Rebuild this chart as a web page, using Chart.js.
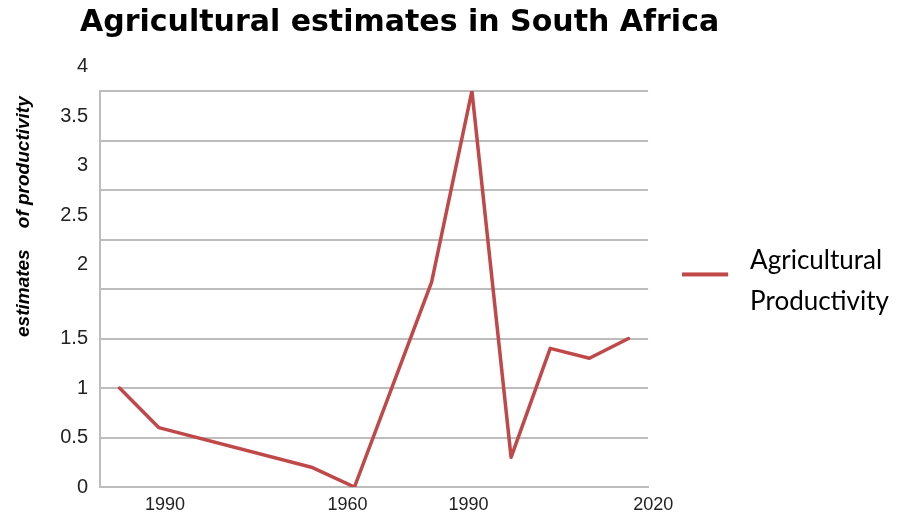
<!DOCTYPE html>
<html>
<head>
<meta charset="utf-8">
<title>Agricultural estimates in South Africa</title>
<script src="https://cdn.jsdelivr.net/npm/chart.js@4/dist/chart.umd.min.js"></script>
<style>
  html, body { margin: 0; padding: 0; background: #ffffff; }
  canvas { display: block; }
</style>
</head>
<body>
<canvas id="chart" width="899" height="515"></canvas>
<script>
// ---- data ----
const chartTitle = 'Agricultural estimates in South Africa';
const seriesName = ['Agricultural', 'Productivity'];
const yAxisTitle = 'estimates    of productivity ';

// position of each observation along the horizontal axis, and its value
const positions    = [0, 1, 4.9, 6, 7.97, 9, 10, 11, 12, 13];
const productivity = [1.0, 0.6, 0.2, 0.0, 2.07, 4.0, 0.3, 1.4, 1.3, 1.5];

// horizontal axis labels and where they sit
const xTickPositions = [1.16, 5.82, 8.91, 13.63];
const xTickLabels    = ['1990', '1960', '1990', '2020'];

// vertical axis: 0 to 4 in steps of 0.5; labels from 2 up sit half a step higher
const yMin = 0, yMax = 4, yStep = 0.5;
const yRaisedFrom = 2;

// ---- styling ----
const lineColor = '#c04848';
const gridColor = '#bdbdbd';
const textColor = '#222222';

// legend swatch: a short thick line, set a little below the first text line
function lineSwatch(color, length, gap, drop, thickness) {
  const c = document.createElement('canvas');
  c.width = length + gap;
  c.height = 2 * (drop + thickness);
  const g = c.getContext('2d');
  g.fillStyle = color;
  g.fillRect(0, c.height / 2 + drop - thickness / 2, length, thickness);
  return c;
}

// moves the chart title to start at a fixed inset from the left edge
const titleInset = {
  id: 'titleInset',
  afterLayout(chart, args, opts) {
    const t = chart.titleBlock;
    if (t) { t.left = opts.left; }
  }
};

const points = positions.map((x, i) => ({ x: x, y: productivity[i] }));

new Chart(document.getElementById('chart'), {
  type: 'line',
  data: {
    datasets: [{
      label: seriesName,
      data: points,
      borderColor: lineColor,
      backgroundColor: lineColor,
      borderWidth: 3.5,
      borderJoinStyle: 'round',
      borderCapStyle: 'round',
      pointRadius: 0,
      pointHoverRadius: 0,
      tension: 0,
      fill: false
    }]
  },
  options: {
    responsive: false,
    animation: false,
    layout: { padding: 0 },
    plugins: {
      titleInset: { left: 80 },
      tooltip: { enabled: false },
      title: {
        display: true,
        text: chartTitle,
        align: 'start',
        color: '#000000',
        font: { family: 'DejaVu Sans', weight: 'bold', size: 30, lineHeight: 1.2 },
        padding: { top: 5, bottom: 50 }
      },
      legend: {
        position: 'right',
        align: 'center',
        fullSize: false,
        maxWidth: 320,
        labels: {
          usePointStyle: true,
          pointStyle: lineSwatch(lineColor, 46, 9, 14, 4),
          pointStyleWidth: 55,
          color: '#000000',
          font: { family: 'Lato', size: 26, lineHeight: 1.6 },
          padding: 34
        }
      }
    },
    scales: {
      x: {
        type: 'linear',
        position: 'bottom',
        min: -0.5,
        max: 13.5,
        grid: { display: false, drawTicks: false },
        border: { display: true, color: gridColor, width: 2 },
        afterBuildTicks: (scale) => {
          scale.ticks = xTickPositions.map(v => ({ value: v }));
        },
        afterFit: (scale) => { scale.height = 28; },
        ticks: {
          autoSkip: false,
          maxRotation: 0,
          padding: 7,
          color: textColor,
          font: { family: 'Liberation Sans', size: 18 },
          callback: (value, index) => xTickLabels[index]
        }
      },
      y: {
        position: 'left',
        min: yMin,
        max: yMax,
        grid: { color: gridColor, lineWidth: 2, drawTicks: false },
        border: { display: true, color: gridColor, width: 2 },
        afterFit: (scale) => { scale.width = 100; },
        ticks: {
          stepSize: yStep,
          autoSkip: false,
          padding: 12,
          color: textColor,
          // raised labels carry a blank second line one step tall,
          // which lifts the visible line by half a step
          font: (ctx) => ({
            family: 'Liberation Sans',
            size: 20,
            lineHeight: ctx.tick && ctx.tick.value >= yRaisedFrom ? '49px' : 1.2
          }),
          callback: (value) => value >= yRaisedFrom ? [String(value), ''] : String(value)
        },
        title: {
          display: true,
          text: yAxisTitle,
          align: 'end',
          color: '#000000',
          font: { family: 'Liberation Sans', weight: 'bold', style: 'italic', size: 19 },
          padding: { top: 12, bottom: 0 }
        }
      }
    }
  },
  plugins: [titleInset]
});
</script>
</body>
</html>
